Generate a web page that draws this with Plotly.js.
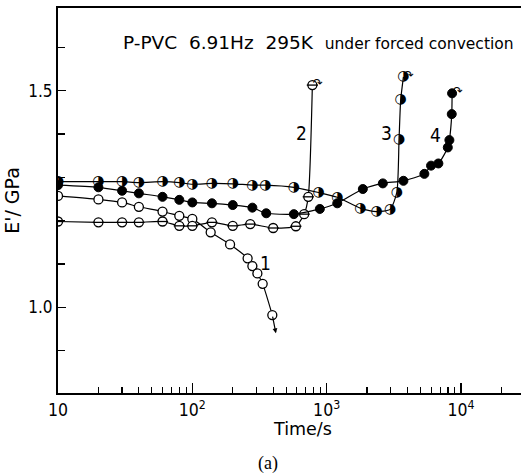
<!DOCTYPE html>
<html>
<head>
<meta charset="utf-8">
<script src="https://cdn.plot.ly/plotly-3.0.1.min.js"></script>
<style>html,body{margin:0;padding:0;background:#fff;}#chart{width:521px;height:474px;}</style>
</head>
<body>
<div id="chart"></div>
<script>
// Curve 1 (open circles)
var s1_t = [10, 20, 30, 40, 60, 80, 100, 137, 191, 258, 280, 305, 334, 394];
var s1_E = [1.257, 1.249, 1.242, 1.232, 1.221, 1.211, 1.204, 1.173, 1.145, 1.113, 1.095, 1.078, 1.054, 0.982];
// Curve 2 (circles with horizontal bar)
var s2_t = [10, 20, 30, 40, 60, 80, 100, 140, 200, 270, 400, 590, 680, 730, 783];
var s2_E = [1.198, 1.196, 1.196, 1.196, 1.198, 1.188, 1.188, 1.196, 1.188, 1.192, 1.183, 1.187, 1.215, 1.255, 1.513];
// Curve 3 (half-filled circles)
var s3_t = [10, 20, 30, 40, 60, 80, 100, 140, 200, 280, 350, 570, 870, 1200, 1780, 2360, 2970, 3330, 3460, 3560, 3730];
var s3_E = [1.290, 1.290, 1.290, 1.288, 1.290, 1.288, 1.284, 1.286, 1.285, 1.282, 1.282, 1.277, 1.265, 1.254, 1.229, 1.221, 1.226, 1.265, 1.388, 1.479, 1.532];
// Curve 4 (filled circles)
var s4_t = [10, 20, 30, 40, 60, 80, 100, 140, 200, 280, 355, 570, 890, 1200, 1860, 2620, 3730, 5340, 5990, 6790, 7980, 8200, 8540, 8590];
var s4_E = [1.282, 1.277, 1.269, 1.263, 1.255, 1.248, 1.242, 1.240, 1.236, 1.230, 1.217, 1.215, 1.227, 1.240, 1.273, 1.286, 1.292, 1.308, 1.327, 1.332, 1.369, 1.386, 1.446, 1.494];

var xTickVals = [10, 100, 1000, 10000];
var xTickText = ['10', '10<sup>2</sup>', '10<sup>3</sup>', '10<sup>4</sup>'];
var xMinorVals = [20,30,40,50,60,70,80,90,200,300,400,500,600,700,800,900,2000,3000,4000,5000,6000,7000,8000,9000,20000];
var yTickVals = [1.0, 1.5];
var yTickText = ['1.0', '1.5'];
var yMinorVals = [0.9, 1.1, 1.2, 1.3, 1.4, 1.6];
var curveLabels = ['1', '2', '3', '4'];
var labelT = [348, 653, 2806, 6410];
var labelE = [1.102, 1.402, 1.402, 1.398];

var NARROW = 'Liberation Sans Narrow, DejaVu Sans Condensed, Liberation Sans, sans-serif';
var SANS = 'DejaVu Sans, Liberation Sans, sans-serif';
var lineStyle = {color: '#000', width: 1.2, shape: 'spline', smoothing: 0.6};

var traces = [
  {x: s1_t, y: s1_E, mode: 'lines+markers', line: lineStyle,
   marker: {symbol: 'circle', size: 9, color: '#fff', line: {color: '#000', width: 1.3}}},
  {x: s2_t, y: s2_E, mode: 'lines+markers', line: lineStyle,
   marker: {symbol: 'circle', size: 9, color: '#fff', line: {color: '#000', width: 1.3}}},
  {x: s2_t, y: s2_E, mode: 'markers',
   marker: {symbol: 'line-ew', size: 8, color: '#000', line: {color: '#000', width: 1.3}}},
  {x: s4_t, y: s4_E, mode: 'lines+markers', line: lineStyle,
   marker: {symbol: 'circle', size: 9, color: '#000', line: {color: '#000', width: 1}}},
  {x: s3_t, y: s3_E, mode: 'lines', line: lineStyle},
  {x: s3_t, y: s3_E, mode: 'text', text: s3_t.map(function(){return '\u25D1';}),
   textposition: 'middle center', textfont: {family: 'DejaVu Sans', size: 14, color: '#000'}}
];
traces.forEach(function(t){ t.showlegend = false; t.hoverinfo = 'x+y'; });

var annotations = curveLabels.map(function(lb, i){
  return {x: Math.log10(labelT[i]), y: labelE[i], xref: 'x', yref: 'y', text: lb, showarrow: false,
          font: {family: NARROW, size: 19, color: '#000'}};
});
// arrow at end of curve 1
annotations.push({x: Math.log10(419), y: 0.94, ax: Math.log10(s1_t[s1_t.length-1]), ay: s1_E[s1_E.length-1],
  xref: 'x', yref: 'y', axref: 'x', ayref: 'y', showarrow: true, arrowhead: 2, arrowsize: 0.8, arrowwidth: 1.2, arrowcolor: '#000', text: ''});
// hooks at tops of curves 2,3,4
[[s2_t, s2_E], [s3_t, s3_E], [s4_t, s4_E]].forEach(function(s){
  var n = s[0].length - 1;
  annotations.push({x: Math.log10(s[0][n]), y: s[1][n], xref: 'x', yref: 'y', text: '\u21B7', showarrow: false,
    xshift: 6, yshift: 2, font: {family: 'DejaVu Sans', size: 12, color: '#000'}});
});

var W = 521, H = 474, ML = 58, MR = 0, MT = 8, MB = 81;
function px2paperX(px){ return (px - ML) / (W - ML - MR); }
function px2paperY(py){ return 1 - (py - MT) / (H - MT - MB); }
annotations.push({x: px2paperX(302), y: px2paperY(429), xref: 'paper', yref: 'paper', xanchor: 'center', yanchor: 'middle',
  text: 'Time/s', showarrow: false, font: {family: SANS, size: 17.5, color: '#000'}});
annotations.push({x: px2paperX(268), y: px2paperY(463), xref: 'paper', yref: 'paper', xanchor: 'center', yanchor: 'middle',
  text: '(a)', showarrow: false, font: {family: 'Liberation Serif, DejaVu Serif, serif', size: 18, color: '#000'}});

var layout = {
  width: W, height: H,
  margin: {l: ML, r: MR, t: MT, b: MB},
  paper_bgcolor: '#fff', plot_bgcolor: '#fff',
  font: {family: SANS, color: '#000'},
  title: {text: 'P-PVC  6.91Hz  295K  <span style="font-size:15.5px">under forced convection</span>',
          x: 123 / W, xanchor: 'left', y: 1 - 43 / H, yanchor: 'middle', xref: 'container', yref: 'container',
          font: {family: SANS, size: 18.5, color: '#000'}},
  xaxis: {type: 'log', range: [1, 4.447], showline: true, linecolor: '#000', linewidth: 2, mirror: true,
          showgrid: false, zeroline: false, ticks: 'inside', ticklen: 10, tickwidth: 1.5, tickcolor: '#000',
          tickmode: 'array', tickvals: xTickVals, ticktext: xTickText,
          tickfont: {family: NARROW, size: 17.5, color: '#000'},
          minor: {ticks: 'inside', ticklen: 6, tickwidth: 1.2, tickcolor: '#000', tickmode: 'array', tickvals: xMinorVals, showgrid: false}},
  yaxis: {range: [0.802, 1.691], showline: true, linecolor: '#000', linewidth: 2, mirror: false,
          showgrid: false, zeroline: false, ticks: 'inside', ticklen: 8, tickwidth: 1.3, tickcolor: '#000',
          tickmode: 'array', tickvals: yTickVals, ticktext: yTickText, automargin: true,
          tickfont: {family: NARROW, size: 17, color: '#000'},
          minor: {ticks: 'inside', ticklen: 7, tickwidth: 1.2, tickcolor: '#000', tickmode: 'array', tickvals: yMinorVals, showgrid: false},
          title: {text: "E'/ GPa", font: {family: SANS, size: 19, color: '#000'}, standoff: 4}},
  annotations: annotations,
  showlegend: false
};

Plotly.newPlot('chart', traces, layout, {displayModeBar: false, staticPlot: true});
</script>
</body>
</html>
